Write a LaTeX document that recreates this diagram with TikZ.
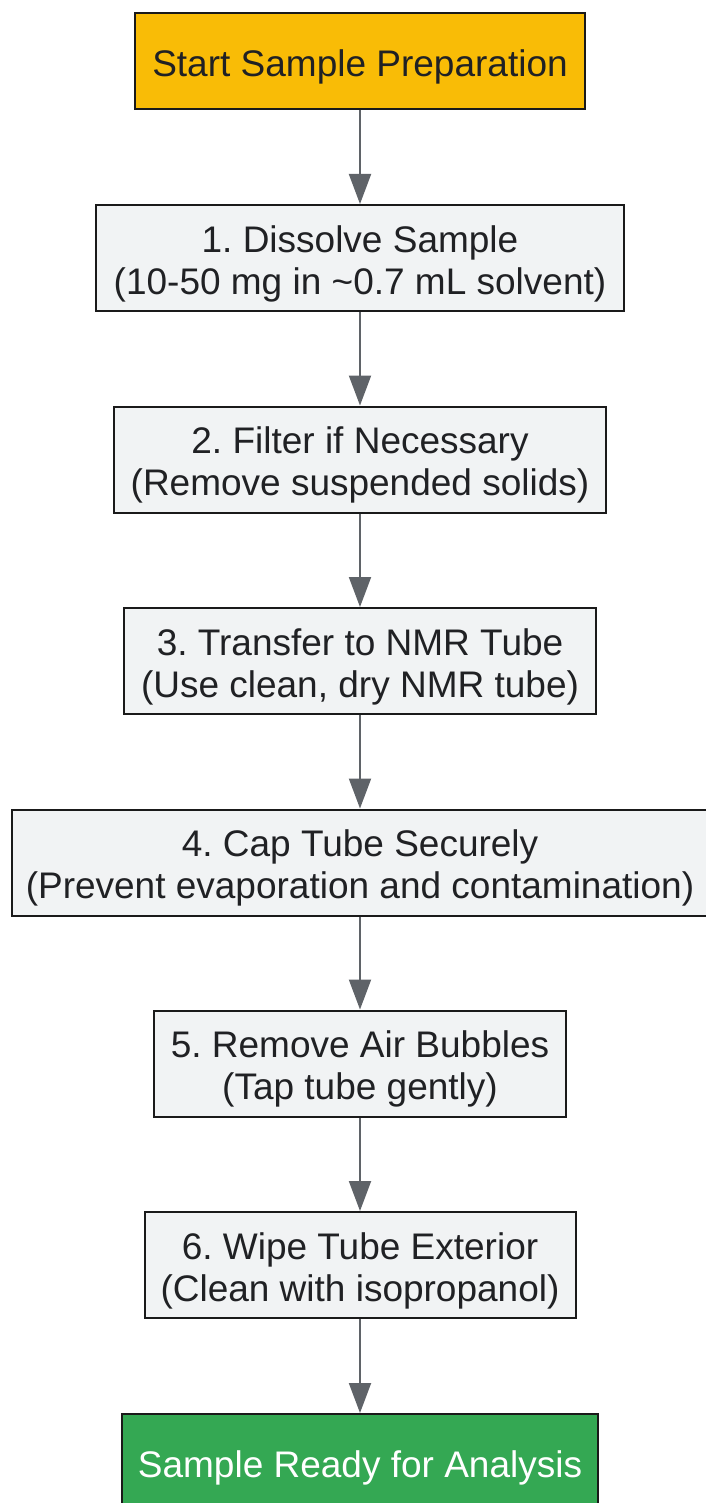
\documentclass[tikz,border=0pt]{standalone}
\usepackage{fontspec}
\setmainfont{Liberation Sans}
\frenchspacing
\usetikzlibrary{arrows.meta}
\definecolor{startfill}{HTML}{F9BC06}
\definecolor{endfill}{HTML}{34A853}
\definecolor{stepfill}{HTML}{F1F3F4}
\definecolor{txt}{HTML}{202124}
\definecolor{arr}{HTML}{5F6368}
\definecolor{edge}{HTML}{1A1A1A}
\tikzset{
  textlab/.style={align=center, inner sep=0pt, yshift=-5.5pt,
    font=\fontsize{37}{42}\selectfont, text=txt},
  whitelab/.style={textlab, text=white},
  box/.style={draw=edge, line width=2pt, inner sep=0pt},
  stepbox/.style={box, fill=stepfill, minimum height=106pt},
  startbox/.style={box, fill=startfill, minimum height=96pt},
  endbox/.style={box, fill=endfill, minimum height=96pt},
  conn/.style={draw=arr, line width=2pt, -{Triangle[length=30pt,width=22pt]}}
}
\begin{document}
\begin{tikzpicture}[x=1pt,y=-1pt]
\useasboundingbox (0,0) rectangle (705,1503);
\node[startbox, minimum width=450pt, label={[textlab]center:Start Sample Preparation}] (s) at (360,61) {};
\node[stepbox, minimum width=528pt, label={[textlab]center:1. Dissolve Sample\\(10-50 mg in \textasciitilde0.7 mL solvent)}] (a) at (360,258) {};
\node[stepbox, minimum width=492pt, label={[textlab]center:2. Filter if Necessary\\(Remove suspended solids)}] (b) at (360,459.5) {};
\node[stepbox, minimum width=472pt, label={[textlab]center:3. Transfer to NMR Tube\\(Use clean, dry NMR tube)}] (c) at (360,661) {};
\node[stepbox, minimum width=696pt, label={[textlab]center:4. Cap Tube Securely\\(Prevent evaporation and contamination)}] (d) at (360,862.5) {};
\node[stepbox, minimum width=412pt, label={[textlab]center:5. Remove Air Bubbles\\(Tap tube gently)}] (e) at (360,1063.5) {};
\node[stepbox, minimum width=431pt, label={[textlab]center:6. Wipe Tube Exterior\\(Clean with isopropanol)}] (f) at (360,1265) {};
\node[endbox, minimum width=476pt, label={[whitelab]center:Sample Ready for Analysis}] (g) at (360,1462) {};
\draw[conn] (s) -- (a);
\draw[conn] (a) -- (b);
\draw[conn] (b) -- (c);
\draw[conn] (c) -- (d);
\draw[conn] (d) -- (e);
\draw[conn] (e) -- (f);
\draw[conn] (f) -- (g);
\end{tikzpicture}
\end{document}
